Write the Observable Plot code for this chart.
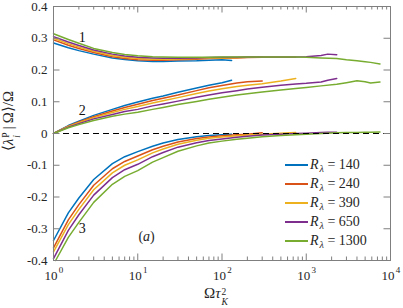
<!DOCTYPE html>
<html><head><meta charset="utf-8">
<script src="https://cdn.jsdelivr.net/npm/d3@7"></script>
<script src="https://cdn.jsdelivr.net/npm/@observablehq/plot@0.6"></script>
<style>
body{margin:0;background:#fff;}
#wrap{position:relative;width:403px;height:308px;font-family:"Liberation Serif","Times New Roman",serif;color:#262626;overflow:hidden;}
.ov{position:absolute;white-space:nowrap;line-height:1;}
.ss{display:inline-flex;flex-direction:column;font-size:9.5px;line-height:11px;vertical-align:0.45em;margin-left:1px;}
.ssx{display:inline-flex;flex-direction:column;font-size:9.5px;line-height:10px;vertical-align:0.35em;margin-left:1px;}
.leg{position:absolute;font-size:14px;}
.row{height:19px;display:flex;align-items:center;}
.sw{display:inline-block;width:23px;height:1.6px;margin-right:2px;}
.sub{font-size:10px;font-style:italic;position:relative;top:3px;margin-left:1px;}
</style></head><body><div id="wrap"></div><script>
// ---- data ----
const rLambda = [140, 240, 390, 650, 1300];
const colors = ["#0072BD", "#D95319", "#EDB120", "#7E2F8E", "#77AC30"];

const xBlue   = [1, 1.5, 2, 3, 5, 7, 10, 15, 20, 30, 50, 70, 100, 130];
const xOrange = [1, 1.5, 2, 3, 5, 7, 10, 15, 20, 30, 50, 70, 100, 150, 200, 300];
const xYellow = [1, 1.5, 2, 3, 5, 7, 10, 15, 20, 30, 50, 70, 100, 150, 200, 300, 500, 750];
const xPurple = [1, 1.5, 2, 3, 5, 7, 10, 15, 20, 30, 50, 70, 100, 150, 200, 300, 500, 750, 1000, 1500, 1800, 2300];
const xGreen  = [1, 1.5, 2, 3, 5, 7, 10, 15, 20, 30, 50, 70, 100, 150, 200, 300, 500, 750, 1000, 1500, 2300, 3000, 4000, 5000, 5800, 7500];
const xGreen3 = [1.06, 1.5, 2, 3, 5, 7, 10, 15, 20, 30, 50, 70, 100, 150, 200, 300, 500, 750, 1000, 1500, 2300, 3000, 4000, 5000, 5800, 7500];

// eigenvalue 1
const l1Blue   = [.285, .270, .261, .250, .238, .233, .229, .227, .227, .228, .229, .231, .232, .230];
const l1Orange = [.295, .278, .268, .255, .242, .236, .232, .231, .231, .232, .234, .236, .237, .238, .239, .240];
const l1Yellow = [.300, .283, .272, .259, .246, .240, .236, .234, .234, .235, .236, .237, .238, .239, .240, .240, .240, .240];
const l1Purple = [.305, .288, .277, .263, .250, .244, .240, .238, .237, .237, .238, .239, .240, .240, .241, .241, .241, .241, .242, .246, .250, .248];
const l1Green  = [.314, .296, .284, .268, .255, .249, .245, .242, .241, .240, .240, .240, .241, .241, .241, .241, .241, .241, .240, .238, .236, .232, .229, .226, .224, .219];

// eigenvalue 2
const l2Blue   = [0, .025, .039, .057, .076, .088, .099, .111, .118, .130, .143, .152, .160, .168];
const l2Orange = [0, .023, .036, .053, .071, .082, .092, .104, .111, .121, .135, .144, .151, .159, .163, .165];
const l2Yellow = [0, .022, .034, .050, .066, .076, .085, .096, .103, .113, .126, .134, .141, .148, .152, .157, .165, .173];
const l2Purple = [0, .020, .031, .046, .060, .069, .076, .087, .093, .102, .114, .121, .128, .135, .140, .146, .152, .156, .158, .162, .168, .173];
const l2Green  = [0, .018, .028, .041, .054, .061, .067, .076, .082, .091, .101, .108, .114, .121, .125, .131, .137, .142, .145, .150, .155, .160, .166, .163, .159, .162];

// eigenvalue 3
const l3Blue   = [-.337, -.250, -.203, -.145, -.095, -.073, -.057, -.040, -.030, -.019, -.010, -.006, -.004, -.002];
const l3Orange = [-.360, -.272, -.224, -.163, -.111, -.088, -.071, -.051, -.040, -.027, -.016, -.011, -.007, -.004, -.002, .002];
const l3Yellow = [-.373, -.287, -.239, -.177, -.124, -.100, -.083, -.061, -.049, -.034, -.021, -.015, -.011, -.007, -.005, -.002, .001, .003];
const l3Purple = [-.394, -.305, -.256, -.194, -.139, -.114, -.097, -.073, -.060, -.043, -.029, -.022, -.017, -.012, -.009, -.005, -.002, .000, .001, .003, .004, .004];
const l3Green  = [-.400, -.327, -.280, -.217, -.160, -.135, -.117, -.090, -.076, -.056, -.039, -.030, -.024, -.018, -.015, -.010, -.006, -.004, -.002, .000, .002, .003, .003, .004, .004, .005];

const yTicks = [-0.4, -0.3, -0.2, -0.1, 0, 0.1, 0.2, 0.3, 0.4];
const yTickLabels = ["-0.4", "-0.3", "-0.2", "-0.1", "0", "0.1", "0.2", "0.3", "0.4"];
const xDecades = [1, 10, 100, 1000, 10000];
const xExponents = ["0", "1", "2", "3", "4"];
const xMinor = [2,3,4,5,6,7,8,9].flatMap(m => [1, 10, 100, 1000].map(d => m * d));

const curveLabels = ["1", "2", "3"];
const curveLabelX = [2.19, 2.19, 2.19];
const curveLabelY = [0.303, 0.072, -0.300];

// ---- layout ----
const W = 403, H = 308, mL = 53, mR = 13, mT = 6, mB = 48;
const pw = W - mL - mR, ph = H - mT - mB;
const axisGray = "#7f7f7f";

const seriesX = [xBlue, xOrange, xYellow, xPurple, xGreen];
const groups = [
  [l1Blue, l1Orange, l1Yellow, l1Purple, l1Green],
  [l2Blue, l2Orange, l2Yellow, l2Purple, l2Green],
  [l3Blue, l3Orange, l3Yellow, l3Purple, l3Green]
];

const lineMarks = [];
for (let s = 0; s < 5; s++) {
  for (let g = 0; g < 3; g++) {
    const xs = (g === 2 && s === 4) ? xGreen3 : seriesX[s];
    const pts = xs.map((x, i) => ({x, y: groups[g][s][i]}));
    lineMarks.push(Plot.line(pts, {x: "x", y: "y", stroke: colors[s], strokeWidth: 1.5}));
  }
}

const labelData = curveLabels.map((t, i) => ({t, x: curveLabelX[i], y: curveLabelY[i]}));

const plot = Plot.plot({
  width: W, height: H,
  marginLeft: mL, marginRight: mR, marginTop: mT, marginBottom: mB,
  x: {type: "log", domain: [1, 1e4], axis: null},
  y: {domain: [-0.4, 0.4], axis: null},
  style: {fontFamily: "'Liberation Serif', serif", background: "white", color: "#262626", overflow: "visible"},
  marks: [
    ...lineMarks,
    Plot.ruleY([0], {stroke: "black", strokeWidth: 1.2, strokeDasharray: "6,4"}),
    Plot.frame({stroke: axisGray, strokeWidth: 1}),
    Plot.tickY(yTicks, {y: d => d, insetRight: pw - 6.5, stroke: axisGray}),
    Plot.tickY(yTicks, {y: d => d, insetLeft: pw - 6.5, stroke: axisGray}),
    Plot.tickX(xDecades, {x: d => d, insetTop: ph - 6.5, stroke: axisGray}),
    Plot.tickX(xDecades, {x: d => d, insetBottom: ph - 6.5, stroke: axisGray}),
    Plot.tickX(xMinor, {x: d => d, insetTop: ph - 3.5, stroke: axisGray}),
    Plot.tickX(xMinor, {x: d => d, insetBottom: ph - 3.5, stroke: axisGray}),
    Plot.text(yTicks, {y: d => d, frameAnchor: "left", dx: -6, textAnchor: "end", text: (d, i) => yTickLabels[i], fontSize: 13, fill: "#262626"}),
    Plot.text(xDecades, {x: d => d, frameAnchor: "bottom", dy: 19, dx: -2.5, text: () => "10", fontSize: 13, fill: "#262626"}),
    Plot.text(xDecades, {x: d => d, frameAnchor: "bottom", dy: 12, dx: 7.5, text: (d, i) => xExponents[i], fontSize: 9, fill: "#262626"}),
    Plot.text(labelData, {x: "x", y: "y", text: "t", fontSize: 14, fill: "#111"})
  ]
});

const wrap = document.getElementById("wrap");
wrap.appendChild(plot);

// helper scales mirroring Plot's
const xs = d3.scaleLog([1, 1e4], [mL, W - mR]);
const ys = d3.scaleLinear([-0.4, 0.4], [H - mB, mT]);

function ov(html, style) {
  const d = document.createElement("div");
  d.className = "ov";
  d.innerHTML = html;
  Object.assign(d.style, style);
  wrap.appendChild(d);
  return d;
}

// panel tag (a)
ov("(<i>a</i>)", {left: xs(12.9) + "px", top: ys(-0.329) + "px", transform: "translate(-50%,-50%)", fontSize: "14px"});

// y label
ov("⟨<i>λ</i><span class='ss'><span>P</span><span><i>i</i></span></span>&thinsp;|&thinsp;Ω⟩/Ω",
   {left: "12px", top: "121px", transform: "translate(-50%,-50%) rotate(-90deg)", fontSize: "15px"});

// x label
ov("Ω<i>τ</i><span class='ssx'><span>2</span><span><i>K</i></span></span>",
   {left: "216px", top: "296px", transform: "translate(-50%,-50%)", fontSize: "15px"});

// legend
const leg = document.createElement("div");
leg.className = "leg";
leg.style.left = "285px";
leg.style.top = "155.5px";
rLambda.forEach((r, i) => {
  const row = document.createElement("div");
  row.className = "row";
  row.innerHTML = `<span class="sw" style="background:${colors[i]}"></span><i>R</i><span class="sub">λ</span>&nbsp;=&nbsp;${r}`;
  leg.appendChild(row);
});
wrap.appendChild(leg);
</script></body></html>
